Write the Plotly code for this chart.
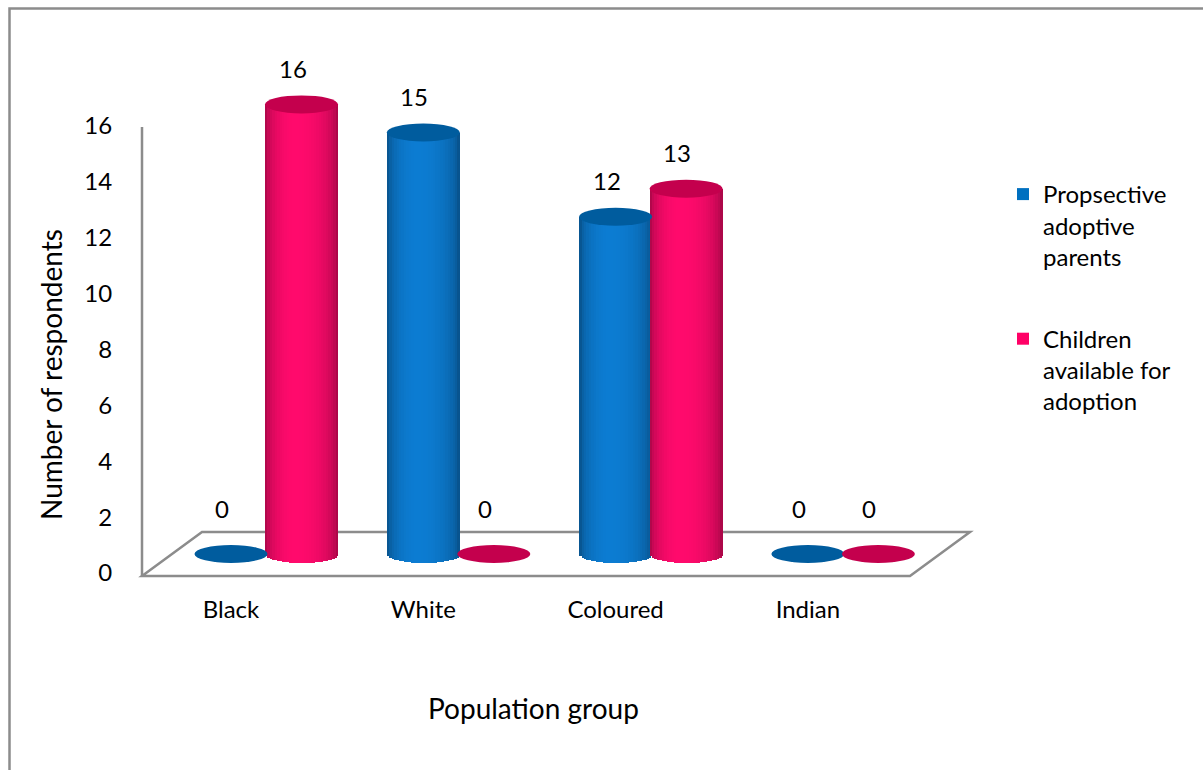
import math
import plotly.graph_objects as go

# ---- data -------------------------------------------------------------
categories = ["Black", "White", "Coloured", "Indian"]
prospective_parents = [0, 15, 12, 0]
children_available = [16, 0, 13, 0]
y_ticks = [0, 2, 4, 6, 8, 10, 12, 14, 16]

series_names = ["Propsective<br>adoptive<br>parents",
                "Children<br>available for<br>adoption"]
series_values = [prospective_parents, children_available]

# ---- page geometry ----------------------------------------------------
W, H = 1203, 770
L, R, T, B = 120, 990, 50, 585          # plot area, pixels

X_PX0, X_STEP = 231.0, 192.3            # first category centre, px per category
Y0_PX, Y_STEP = 573.0, 27.94            # value axis on the side wall
Y2_0_PX, Y2_STEP = 554.0, 28.1          # plane the cylinders stand on

x_range = [(L - X_PX0) / X_STEP, (R - X_PX0) / X_STEP]
y_range = [-(B - Y0_PX) / Y_STEP, (Y0_PX - T) / Y_STEP]
y2_range = [-(B - Y2_0_PX) / Y2_STEP, (Y2_0_PX - T) / Y2_STEP]


def px_x(p):
    return (p - X_PX0) / X_STEP


def px_y(p):
    return (Y0_PX - p) / Y_STEP


def paper_x(p):
    return (p - L) / (R - L)


def paper_y(p):
    return (B - p) / (B - T)


FONT = "Lato, 'Open Sans', sans-serif"
FS = 24          # ticks, data labels, legend
FS_TITLE = 28    # axis titles

# ---- cylinder styling --------------------------------------------------
CYL_W = 73 / X_STEP                     # cylinder diameter in category units
SERIES_DX = [0.0, 70.5 / X_STEP]        # position of each series inside a group
ELL_H = 9.0 / Y2_STEP                   # half height of the end ellipses
PEAK = [(12, 124, 210), (255, 10, 108)]  # brightest body colour
LEGEND_COL = ["#0070C0", "#FF0066"]
TOP_COL = ["#005C9E", "#C4004D"]
N_STRIPS = 30

idx = list(range(len(categories)))


def shade(rgb, t):
    c = 0.42
    u = (t - c) / c if t < c else (t - c) / (1 - c)
    u = max(-1.0, min(1.0, u))
    f = 0.58 + 0.42 * math.sqrt(max(0.0, 1 - u * u))
    return "rgb({},{},{})".format(*[int(round(v * f)) for v in rgb])


fig = go.Figure()

for s, vals in enumerate(series_values):
    dx = SERIES_DX[s]
    # flat bar in the series colour: carries the legend entry
    fig.add_trace(go.Bar(
        x=idx, y=vals, base=[0] * len(vals), yaxis="y2",
        offset=dx - CYL_W / 2, width=CYL_W,
        marker=dict(color=LEGEND_COL[s], line=dict(width=0)),
        name=series_names[s], legendgroup=f"g{s}", showlegend=True,
        hoverinfo="skip",
    ))
    # shaded vertical strips give the round body, curved bottom included
    for k in range(N_STRIPS):
        t0 = k / N_STRIPS
        tc = (k + 0.5) / N_STRIPS
        d = ELL_H * math.sqrt(max(0.0, 1 - (2 * tc - 1) ** 2))
        ys = [v + d if v > 0 else 0 for v in vals]
        bs = [-d if v > 0 else 0 for v in vals]
        wk = CYL_W / N_STRIPS * (1.7 if k < N_STRIPS - 1 else 1.0)
        fig.add_trace(go.Bar(
            x=idx, y=ys, base=bs, yaxis="y2",
            offset=dx - CYL_W / 2 + t0 * CYL_W, width=wk,
            marker=dict(color=shade(PEAK[s], tc), line=dict(width=0)),
            legendgroup=f"g{s}", showlegend=False, hoverinfo="skip",
        ))

shapes = []
# floor of the 3-D plot and the value-axis wall line
floor = [(142, 576), (202, 532), (970, 532), (910, 576)]
path = "M " + " L ".join(f"{px_x(a):.4f},{px_y(b):.4f}" for a, b in floor) + " Z"
shapes.append(dict(type="path", path=path, xref="x", yref="y", layer="below",
                   line=dict(color="#8C8C8C", width=2.5), fillcolor="white"))
shapes.append(dict(type="line", xref="x", yref="y", layer="below",
                   x0=px_x(142), x1=px_x(142), y0=px_y(577), y1=px_y(127),
                   line=dict(color="#8C8C8C", width=2.5)))
# chart frame
shapes.append(dict(type="rect", xref="paper", yref="paper",
                   x0=paper_x(9.5), x1=paper_x(1230), y0=paper_y(8.5), y1=paper_y(800),
                   line=dict(color="#8C8C8C", width=2.5), fillcolor="rgba(0,0,0,0)",
                   layer="below"))

annotations = []
for s, vals in enumerate(series_values):
    dx = SERIES_DX[s]
    for i, v in zip(idx, vals):
        # top face of each cylinder (a flat disc when the value is zero)
        shapes.append(dict(type="circle", xref="x", yref="y2", layer="above",
                           x0=i + dx - CYL_W / 2, x1=i + dx + CYL_W / 2,
                           y0=v - ELL_H, y1=v + ELL_H,
                           fillcolor=TOP_COL[s], line=dict(width=0)))
        # labels of empty bars sit a little higher above their flat disc
        annotations.append(dict(x=i + dx, y=v, xref="x", yref="y2", text=str(v),
                                showarrow=False, xshift=-9,
                                yshift=46 if v == 0 else 36,
                                xanchor="center", yanchor="middle",
                                font=dict(family=FONT, size=FS, color="black")))

annotations.append(dict(text="Number of respondents", textangle=-90, showarrow=False,
                        xref="paper", yref="paper", x=paper_x(51), y=paper_y(375),
                        xanchor="center", yanchor="middle",
                        font=dict(family=FONT, size=FS_TITLE, color="black")))
annotations.append(dict(text="Population group", showarrow=False,
                        xref="paper", yref="paper", x=paper_x(533), y=paper_y(708),
                        xanchor="center", yanchor="middle",
                        font=dict(family=FONT, size=FS_TITLE, color="black")))

fig.update_layout(
    width=W, height=H, autosize=False,
    margin=dict(l=L, r=W - R, t=T, b=H - B, pad=0),
    paper_bgcolor="white", plot_bgcolor="white",
    barmode="overlay", bargap=0,
    font=dict(family=FONT, size=FS, color="black"),
    xaxis=dict(range=x_range, tickvals=idx, ticktext=categories,
               showgrid=False, zeroline=False, showline=False,
               ticks="outside", ticklen=3, tickcolor="rgba(0,0,0,0)",
               fixedrange=True),
    yaxis=dict(range=y_range, tickvals=y_ticks, showgrid=False, zeroline=False,
               showline=False, ticks="outside", ticklen=2,
               tickcolor="rgba(0,0,0,0)", fixedrange=True),
    yaxis2=dict(range=y2_range, overlaying="y", visible=False, fixedrange=True),
    legend=dict(x=paper_x(1003), y=paper_y(172), xanchor="left", yanchor="top",
                valign="top", traceorder="grouped", tracegroupgap=48,
                font=dict(family=FONT, size=FS, color="black"),
                bgcolor="rgba(0,0,0,0)"),
    shapes=shapes, annotations=annotations,
    showlegend=True,
)

fig.write_html("out.html")
